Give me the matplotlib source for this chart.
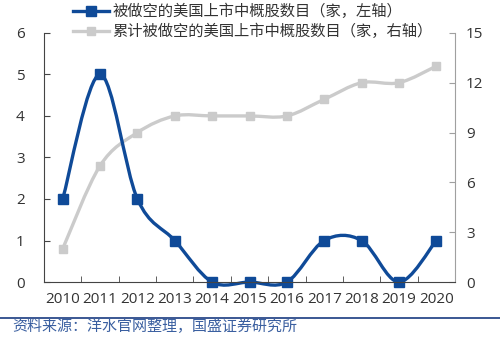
import matplotlib.pyplot as plt
import numpy as np
from matplotlib.path import Path
from matplotlib.patches import PathPatch
from matplotlib.lines import Line2D

plt.rcParams['font.family'] = ['Noto Sans CJK SC', 'DejaVu Sans']

# data
years = ['2010', '2011', '2012', '2013', '2014', '2015', '2016', '2017', '2018', '2019', '2020']
shorted = [2, 5, 2, 1, 0, 0, 0, 1, 1, 0, 1]
cumulative = [2, 7, 9, 10, 10, 10, 10, 11, 12, 12, 13]
label_left = '被做空的美国上市中概股数目（家，左轴）'
label_right = '累计被做空的美国上市中概股数目（家，右轴）'
source = '资料来源：洋水官网整理，国盛证券研究所'

blue = '#0f4a98'
gray = '#cbcbcb'


def smooth_path(x, y):
    # Catmull-Rom style bezier, like Excel's smoothed line
    x = np.asarray(x, float)
    y = np.asarray(y, float)
    n = len(x)
    verts = [(x[0], y[0])]
    codes = [Path.MOVETO]
    for i in range(n - 1):
        p0 = np.array([x[max(i - 1, 0)], y[max(i - 1, 0)]])
        p1 = np.array([x[i], y[i]])
        p2 = np.array([x[i + 1], y[i + 1]])
        p3 = np.array([x[min(i + 2, n - 1)], y[min(i + 2, n - 1)]])
        c1 = p1 + (p2 - p0) / 6
        c2 = p2 - (p3 - p1) / 6
        verts += [tuple(c1), tuple(c2), tuple(p2)]
        codes += [Path.CURVE4] * 3
    return Path(verts, codes)


fig = plt.figure(figsize=(5, 3.39), dpi=100)
ax = fig.add_axes([0.088, 0.168, 0.822, 0.735])
ax2 = ax.twinx()
ax.set_zorder(ax2.get_zorder() + 1)
ax.patch.set_visible(False)

xs = np.arange(len(years))

ax2.add_patch(PathPatch(smooth_path(xs, cumulative), fill=False, edgecolor=gray, lw=2.4,
                        capstyle='round', joinstyle='round', clip_on=False))
ax2.plot(xs, cumulative, ls='none', marker='s', ms=6, color=gray, clip_on=False)

ax.add_patch(PathPatch(smooth_path(xs, shorted), fill=False, edgecolor=blue, lw=2.4,
                       capstyle='round', joinstyle='round', clip_on=False))
ax.plot(xs, shorted, ls='none', marker='s', ms=6.5, color=blue, clip_on=False)

ax.set_xlim(-0.5, len(years) - 0.5)
ax.set_ylim(0, 6)
ax2.set_ylim(0, 15)
ax.set_yticks(range(0, 7))
ax2.set_yticks(range(0, 16, 3))
ax.set_xticks(xs)
ax.set_xticklabels(years)
ax.set_xticks(np.arange(0.5, len(years) - 1, 1), minor=True)

for lab in ax.get_xticklabels() + ax.get_yticklabels() + ax2.get_yticklabels():
    lab.set_fontfamily(['Open Sans', 'DejaVu Sans'])
    lab.set_fontsize(11)
    lab.set_color('#333333')

ax.tick_params(axis='x', which='major', length=0, pad=7)
ax.tick_params(axis='x', which='minor', direction='in', length=4, color='#444444')
ax.tick_params(axis='y', direction='in', length=4, color='#444444', pad=14)
ax2.tick_params(axis='y', direction='in', length=4, color='#a0a0a0', pad=8)

for a in (ax, ax2):
    a.spines['top'].set_visible(False)
ax.spines['right'].set_visible(False)
ax2.spines['left'].set_visible(False)
ax2.spines['bottom'].set_visible(False)
ax.spines['left'].set_color('#444444')
ax.spines['bottom'].set_color('#444444')
ax2.spines['right'].set_color('#a0a0a0')

handles = [Line2D([], [], color=blue, lw=2.4, marker='s', ms=6.5),
           Line2D([], [], color=gray, lw=2.4, marker='s', ms=6)]
fig.legend(handles, [label_left, label_right], loc='upper left',
           bbox_to_anchor=(0.145, 1 - 3 / 339), frameon=False, fontsize=11,
           handlelength=2.4, handletextpad=0.2, labelspacing=0.2,
           borderpad=0.0, borderaxespad=0, labelcolor='#333333')

fig.add_artist(Line2D([0, 1], [1 - 318 / 339, 1 - 318 / 339], color='#2b4a8a', lw=1.3))
fig.text(0.024, 1 - 327 / 339, source, fontsize=10.8, color='#3a5fa0', va='center')

fig.savefig('out.png', dpi=100)
